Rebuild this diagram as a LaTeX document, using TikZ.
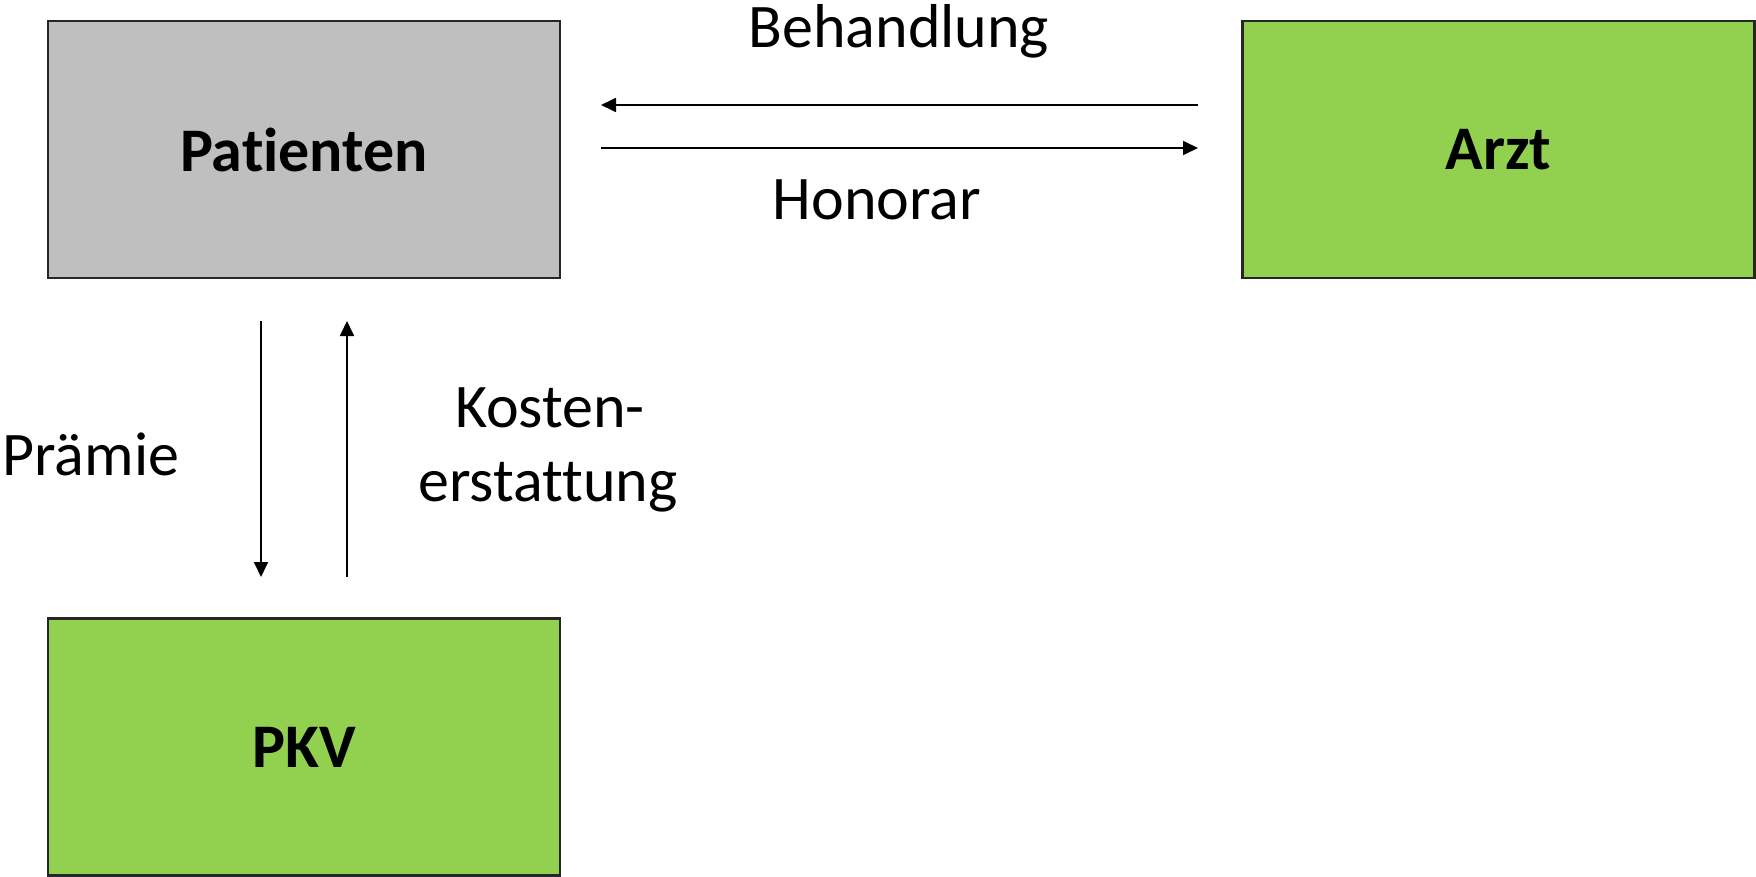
\documentclass[tikz,border=0pt]{standalone}
\usepackage{fontspec}
\setmainfont{Carlito}[Ligatures={NoCommon}]
\usetikzlibrary{arrows.meta}
\definecolor{boxgray}{HTML}{BFBFBF}
\definecolor{boxgreen}{HTML}{92D050}
\begin{document}
\begin{tikzpicture}[x=0.5pt,y=-0.5pt,
  entity/.style={draw=black!85,line width=1.2pt,minimum width=256pt,minimum height=128.5pt,inner sep=0pt,font=\fontsize{31}{37}\selectfont\bfseries},
  flow/.style={line width=0.9pt,-{Triangle[length=7.5pt,width=7pt]}},
  lbl/.style={font=\fontsize{31}{37}\selectfont,inner sep=0pt}]
\useasboundingbox (0,0) rectangle (1756,877);
\node[entity,fill=boxgray] (pat) at (304,149.5) {Patienten};
\node[entity,fill=boxgreen] (arzt) at (1498.5,149.5) {Arzt};
\node[entity,fill=boxgreen] (pkv) at (304,747) {PKV};
\coordinate (bA) at (1198,105);
\coordinate (bB) at (601,105);
\coordinate (hA) at (601,148);
\coordinate (hB) at (1198,148);
\coordinate (pA) at (261,321);
\coordinate (pB) at (261,577);
\coordinate (kA) at (347,577);
\coordinate (kB) at (347,321);
\draw[flow] (bA) -- (bB);
\draw[flow] (hA) -- (hB);
\draw[flow] (pA) -- (pB);
\draw[flow] (kA) -- (kB);
\node[lbl,anchor=base] (beh) at (899,48) {Behandlung};
\node[lbl,anchor=base] (hon) at (877,220) {Honorar};
\node[lbl,anchor=base west] (pra) at (2,475) {Prämie};
\node[lbl,anchor=base] (kos1) at (550,427) {Kosten-};
\node[lbl,anchor=base] (kos2) at (548,501) {erstattung};
\end{tikzpicture}
\end{document}
